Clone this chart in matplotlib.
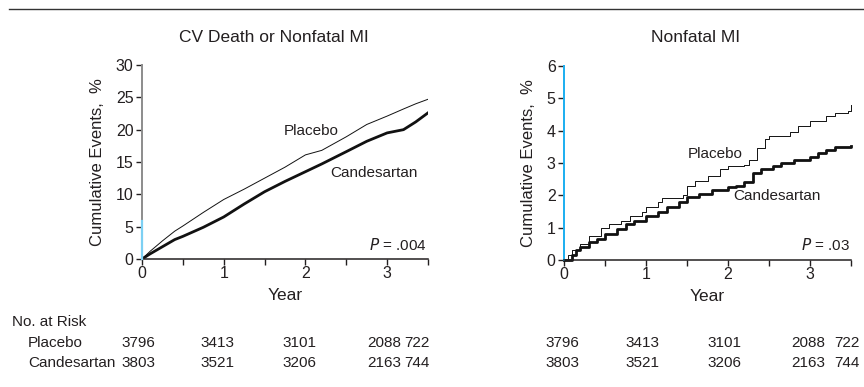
import numpy as np
import matplotlib.pyplot as plt
from matplotlib.lines import Line2D
from matplotlib.transforms import blended_transform_factory

plt.rcParams['font.family'] = ['Liberation Sans', 'DejaVu Sans']

# CV death or nonfatal MI (years, cumulative %)
cv_years = [0, 0.1, 0.25, 0.4, 0.5, 0.75, 1.0, 1.25, 1.5, 1.75, 2.0, 2.2, 2.5, 2.75, 3.0, 3.2, 3.35, 3.5]
cv_placebo = [0, 1.2, 2.8, 4.3, 5.1, 7.2, 9.2, 10.8, 12.5, 14.2, 16.1, 16.8, 18.9, 20.8, 22.1, 23.2, 24.0, 24.7]
cv_cand = [0, 0.8, 1.9, 3.0, 3.5, 4.9, 6.5, 8.5, 10.4, 12.0, 13.5, 14.7, 16.6, 18.2, 19.5, 20.0, 21.2, 22.6]

# Nonfatal MI (step curves)
mi_pl_years = [0, 0.05, 0.1, 0.2, 0.3, 0.45, 0.55, 0.7, 0.8, 0.95, 1.0, 1.15, 1.2, 1.45, 1.5, 1.6, 1.75,
               1.9, 2.0, 2.2, 2.25, 2.35, 2.45, 2.5, 2.75, 2.85, 3.0, 3.2, 3.3, 3.46, 3.5]
mi_placebo = [0, 0.15, 0.3, 0.5, 0.75, 1.0, 1.1, 1.2, 1.35, 1.5, 1.65, 1.8, 1.93, 2.0, 2.3, 2.45, 2.6,
              2.8, 2.92, 2.95, 3.1, 3.45, 3.75, 3.85, 3.95, 4.15, 4.3, 4.45, 4.55, 4.6, 4.8]
mi_ca_years = [0, 0.1, 0.15, 0.2, 0.3, 0.4, 0.5, 0.65, 0.75, 0.85, 1.0, 1.15, 1.25, 1.4, 1.5, 1.65, 1.8,
               2.0, 2.1, 2.2, 2.3, 2.4, 2.55, 2.65, 2.8, 3.0, 3.1, 3.2, 3.3, 3.5]
mi_cand = [0, 0.15, 0.3, 0.4, 0.55, 0.65, 0.8, 0.95, 1.1, 1.2, 1.35, 1.5, 1.65, 1.8, 1.95, 2.05, 2.15,
           2.25, 2.3, 2.4, 2.7, 2.8, 2.9, 3.0, 3.1, 3.2, 3.3, 3.4, 3.5, 3.52]

risk_placebo = [3796, 3413, 3101, 2088, 722]
risk_cand = [3803, 3521, 3206, 2163, 744]

W, H = 864, 387
fig = plt.figure(figsize=(W / 100, H / 100), dpi=100)

def fx(px):
    return px / W

def fy(py):
    return 1 - py / H

ax1 = fig.add_axes([fx(142), fy(259), fx(286), 194 / H])
ax2 = fig.add_axes([fx(564), fy(260), fx(287), 194 / H])

txt = '#231f20'
blue = '#1aaef0'

for ax, ymax, step in [(ax1, 30, 5), (ax2, 6, 1)]:
    ax.set_xlim(0, 3.5)
    ax.set_ylim(0, ymax)
    ax.set_yticks(np.arange(0, ymax + 1, step))
    ax.set_xticks([0, 1, 2, 3])
    ax.set_xticks([0.5, 1.5, 2.5, 3.5], minor=True)
    for s in ['top', 'right']:
        ax.spines[s].set_visible(False)
    ax.spines['bottom'].set_color(txt)
    ax.spines['bottom'].set_linewidth(1.1)
    ax.spines['left'].set_linewidth(1.4)
    ax.tick_params(axis='both', which='both', direction='out', length=4, width=1,
                   colors=txt, labelsize=11.5, pad=2)
    ax.tick_params(axis='x', which='both', pad=1)
    ax.set_xlabel('Year', fontsize=12.5, color=txt, family=['Liberation Sans Narrow', 'Liberation Sans'], labelpad=5)
    ax.set_ylabel('Cumulative Events,  %', fontsize=12, color=txt, labelpad=8)

ax1.spines['left'].set_color('#8c8c8c')
ax1.axvline(0, ymin=0, ymax=5.9 / 30, color='#7dd0f3', lw=1.6, clip_on=False, zorder=5)
ax2.spines['left'].set_color(blue)

ax1.plot(cv_years, cv_placebo, color='#111111', lw=0.7)
ax1.plot(cv_years, cv_cand, color='#111111', lw=2.0)
ax2.step(mi_pl_years, mi_placebo, where='post', color='#111111', lw=0.7, clip_on=False)
ax2.step(mi_ca_years, mi_cand, where='post', color='#111111', lw=2.0, clip_on=False)

ax1.text(1.73, 19.8, 'Placebo', fontsize=11, color=txt, va='center')
ax1.text(2.30, 13.3, 'Candesartan', fontsize=11, color=txt, va='center')
ax1.text(3.48, 2.2, '$\\it{P}$ = .004', fontsize=11, color=txt, ha='right', va='center')
ax2.text(1.51, 3.28, 'Placebo', fontsize=11, color=txt, va='center')
ax2.text(2.07, 1.98, 'Candesartan', fontsize=11, color=txt, va='center')
ax2.text(3.49, 0.46, '$\\it{P}$ = .03', fontsize=11, color=txt, ha='right', va='center')

fig.text(fx(274), fy(37), 'CV Death or Nonfatal MI', fontsize=12.5, color=txt, ha='center', va='center')
fig.text(fx(696), fy(37), 'Nonfatal MI', fontsize=12.5, color=txt, ha='center', va='center')

fig.add_artist(Line2D([fx(9), 1], [fy(9), fy(9)], color='#333333', lw=1.0))

# number at risk table
narrow = ['Liberation Sans Narrow', 'Liberation Sans']
tsize = 11
fig.text(fx(12), fy(322), 'No. at Risk', fontsize=tsize, family=narrow, color=txt, va='center')
fig.text(fx(28), fy(343), 'Placebo', fontsize=tsize, family=narrow, color=txt, va='center')
fig.text(fx(28), fy(363), 'Candesartan', fontsize=tsize, family=narrow, color=txt, va='center')

left_pos = [-0.04, 0.92, 1.93, 2.96, 3.36]
right_pos = [-0.02, 0.96, 1.96, 2.98, 3.45]
for ax, pos in [(ax1, left_pos), (ax2, right_pos)]:
    tr = blended_transform_factory(ax.transData, fig.transFigure)
    for x, a, b in zip(pos, risk_placebo, risk_cand):
        fig.text(x, fy(343), str(a), transform=tr, fontsize=tsize, family=narrow,
                 color=txt, ha='center', va='center')
        fig.text(x, fy(363), str(b), transform=tr, fontsize=tsize, family=narrow,
                 color=txt, ha='center', va='center')

fig.savefig('out.png', dpi=100)
